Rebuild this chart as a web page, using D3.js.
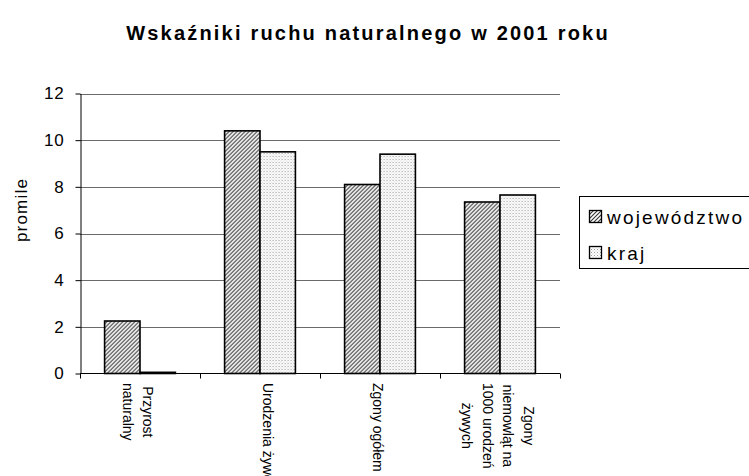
<!DOCTYPE html>
<html>
<head>
<meta charset="utf-8">
<script src="https://cdn.jsdelivr.net/npm/d3@7"></script>
<style>
  body { margin: 0; background: #fff; }
  text { font-family: "Liberation Sans", Arial, sans-serif; fill: #000; }
</style>
</head>
<body>
<div id="chart"></div>
<script>
// chart data
var categories = ["Przyrost naturalny", "Urodzenia żywe", "Zgony ogółem", "Zgony niemowląt na 1000 urodzeń żywych"];
var categoryLines = [["Przyrost", "naturalny"], ["Urodzenia żywe", ""], ["Zgony ogółem"], ["Zgony", "niemowląt na", "1000 urodzeń", "żywych"]];
var seriesNames = ["województwo", "kraj"];
var wojewodztwo = [2.25, 10.4, 8.1, 7.35];
var kraj = [0.05, 9.5, 9.4, 7.65];
var yTicks = [0, 2, 4, 6, 8, 10, 12];

var svgWidth = 749;
var svgHeight = 476;

var svg = d3.select("#chart")
  .append("svg")
  .attr("width", svgWidth)
  .attr("height", svgHeight);

// patterns for the two series
var defs = svg.append("defs");
var p1 = defs.append("pattern")
  .attr("id", "hatch")
  .attr("patternUnits", "userSpaceOnUse")
  .attr("width", 4).attr("height", 4);
p1.append("rect").attr("width", 4).attr("height", 4).attr("fill", "#fff");
p1.append("path")
  .attr("d", "M-1,1 l2,-2 M0,4 l4,-4 M3,5 l2,-2")
  .attr("stroke", "#333").attr("stroke-width", 1.1);

var p2 = defs.append("pattern")
  .attr("id", "dots")
  .attr("patternUnits", "userSpaceOnUse")
  .attr("width", 3).attr("height", 3);
p2.append("rect").attr("width", 3).attr("height", 3).attr("fill", "#fff");
p2.append("rect").attr("x", 0).attr("y", 0).attr("width", 1).attr("height", 1).attr("fill", "#999");
p2.append("rect").attr("x", 1.5).attr("y", 1.5).attr("width", 1).attr("height", 1).attr("fill", "#bbb");

var fills = ["url(#hatch)", "url(#dots)"];

// scales
var xScale = d3.scaleBand()
  .domain(categories)
  .range([80, 560])
  .paddingInner(0.41)
  .paddingOuter(0.205);

var xSub = d3.scaleBand()
  .domain(seriesNames)
  .range([0, xScale.bandwidth()]);

var yScale = d3.scaleLinear()
  .domain([0, 12])
  .range([373.5, 93.5]);

// gridlines
svg.append("g")
  .selectAll("line")
  .data(yTicks.slice(1))
  .enter()
  .append("line")
  .attr("x1", 80)
  .attr("x2", 560)
  .attr("y1", d => Math.round(yScale(d)) + 0.5)
  .attr("y2", d => Math.round(yScale(d)) + 0.5)
  .attr("stroke", "#6a6a6a")
  .attr("stroke-width", 1);

// bars
var rows = categories.map(function(c, i) {
  return { cat: c, values: [wojewodztwo[i], kraj[i]] };
});

var groups = svg.append("g")
  .selectAll("g")
  .data(rows)
  .enter()
  .append("g")
  .attr("transform", d => `translate(${xScale(d.cat)}, 0)`);

groups.selectAll("rect")
  .data(d => d.values.map((v, j) => ({ name: seriesNames[j], value: v, j: j })))
  .enter()
  .append("rect")
  .attr("x", d => xSub(d.name))
  .attr("y", d => yScale(d.value))
  .attr("width", xSub.bandwidth())
  .attr("height", d => yScale(0) - yScale(d.value))
  .attr("fill", d => fills[d.j])
  .attr("stroke", "#000")
  .attr("stroke-width", 1.6);

// y axis
var leftAxis = d3.axisLeft(yScale)
  .tickValues(yTicks)
  .tickSize(5)
  .tickSizeOuter(0)
  .tickPadding(11);

var yAxisG = svg.append("g")
  .attr("transform", "translate(80.5, 0)")
  .call(leftAxis);
yAxisG.selectAll("text")
  .style("font-family", "Liberation Sans, Arial, sans-serif")
  .style("font-size", "17px")
  .style("letter-spacing", "0.8px")
  .attr("fill", "#000");
yAxisG.selectAll("line, path").attr("stroke", "#000");

// x axis line with ticks between categories
svg.append("line")
  .attr("x1", 80).attr("x2", 560)
  .attr("y1", 373.5).attr("y2", 373.5)
  .attr("stroke", "#000");

var boundaries = categories.map(c => xScale(c) - xScale.step() * xScale.paddingInner() / 2)
  .concat([560]);
svg.append("g")
  .selectAll("line")
  .data(boundaries)
  .enter()
  .append("line")
  .attr("x1", d => Math.round(d) + 0.5)
  .attr("x2", d => Math.round(d) + 0.5)
  .attr("y1", 373.5)
  .attr("y2", 378.5)
  .attr("stroke", "#000");

// category labels, rotated
var lineGap = 20.5;
categoryLines.forEach(function(lines, i) {
  var cx = xScale(categories[i]) + xScale.bandwidth() / 2 - 2;
  var g = svg.append("g");
  var texts = lines.map(function(t, k) {
    var localY = (k - (lines.length - 1) / 2) * lineGap + 5;
    return g.append("text")
      .attr("text-anchor", "middle")
      .style("font-size", "14px")
      .attr("transform", `translate(${cx}, 0) rotate(90)`)
      .attr("y", localY)
      .text(t);
  });
  var maxLen = d3.max(texts, t => t.node().getComputedTextLength());
  texts.forEach(t => t.attr("x", 383 + maxLen / 2));
});

// y axis title
svg.append("text")
  .attr("transform", "translate(27, 210) rotate(-90)")
  .attr("text-anchor", "middle")
  .style("font-size", "17px")
  .style("letter-spacing", "1.2px")
  .text("promile");

// chart title
svg.append("text")
  .attr("x", 368)
  .attr("y", 40)
  .attr("text-anchor", "middle")
  .style("font-size", "20px")
  .style("font-weight", "bold")
  .style("letter-spacing", "2.2px")
  .text("Wskaźniki ruchu naturalnego w 2001 roku");

// legend
var legend = svg.append("g");
legend.append("rect")
  .attr("x", 579.5).attr("y", 196.5)
  .attr("width", 180).attr("height", 72)
  .attr("fill", "#fff")
  .attr("stroke", "#000");

legend.selectAll("g")
  .data(seriesNames)
  .enter()
  .append("g")
  .each(function(d, i) {
    var item = d3.select(this);
    item.append("rect")
      .attr("x", 589.5).attr("y", 210.5 + i * 36)
      .attr("width", 12).attr("height", 12)
      .attr("fill", fills[i])
      .attr("stroke", "#000")
      .attr("stroke-width", 1.3);
    item.append("text")
      .attr("x", 607)
      .attr("y", 223.5 + i * 36)
      .style("font-size", "19px")
      .style("letter-spacing", "2.2px")
      .text(d);
  });
</script>
</body>
</html>
